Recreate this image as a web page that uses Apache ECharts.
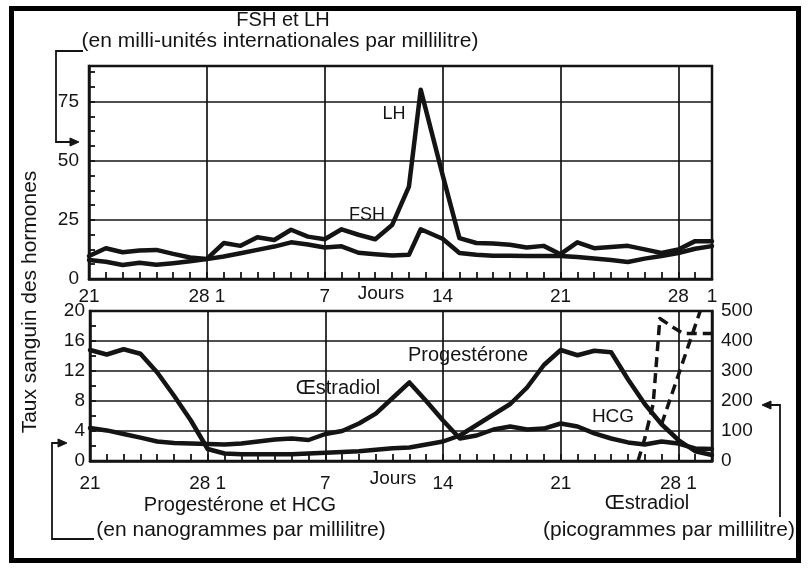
<!DOCTYPE html>
<html>
<head>
<meta charset="utf-8">
<script src="https://cdn.jsdelivr.net/npm/echarts@6/dist/echarts.min.js"></script>
<style>
html,body{margin:0;padding:0;background:#fff;}
#c{width:808px;height:569px;}
</style>
</head>
<body>
<div id="c"></div>
<script>
// ---- Données (jour 0 = jour 21 du cycle précédent) ----
const jours = [0,1,2,3,4,5,6,7,8,9,10,11,12,13,14,15,16,17,18,19,20,21,22,23,24,25,26,27,28,29,30,31,32,33,34,35,36,37];
// jours des mesures FSH/LH (le pic est légèrement avant le jour 20)
const joursHypophyse = [0,1,2,3,4,5,6,7,8,9,10,11,12,13,14,15,16,17,18,19,19.7,21,22,23,24,25,26,27,28,29,30,31,32,33,34,35,36,37];

// FSH et LH (mUI/ml)
const lh  = [9.7,13,11.3,12,12.3,10.6,9.1,8.5,15.2,14,17.6,16.5,20.8,17.9,16.8,21,18.7,16.8,22.8,39,80,44,17.3,15.2,15,14.5,13.3,14,10.5,15.5,13,13.5,14,12.5,11,12.5,16,16];
const fsh = [8,7.3,5.9,6.9,6,6.7,7.5,8.4,9.5,10.9,12.3,13.7,15.5,14.6,13.3,13.8,11.1,10.5,9.9,10.2,21,17,11,10.2,9.8,9.8,9.7,9.7,9.7,9.3,8.7,8,7.2,8.6,9.7,11,12.8,13.9];

// Progestérone (ng/ml)
const progesterone = [14.8,14.2,14.9,14.3,11.8,8.7,5.4,1.6,1.0,0.9,0.9,0.9,0.9,1.0,1.1,1.2,1.3,1.5,1.7,1.8,2.2,2.6,3.4,4.8,6.2,7.6,9.8,12.8,14.8,14.1,14.7,14.5,10.9,7.6,4.9,2.8,1.3,0.8];

// Œstradiol (pg/ml)
const oestradiol = [110,102,90,78,65,60,58,57,55,58,65,72,75,70,90,100,125,158,210,262,200,135,75,85,105,115,105,108,125,115,92,75,62,55,65,58,42,40];

// HCG (ng/ml, tirets)
const hcgJours = [32.6,33.0,33.5,33.9,34.7,35.3,37];
const hcg      = [0,3,7.6,19,17.8,17,17];

// Progestérone en cas de grossesse (tirets)
const progGrossesseJours = [34,36.3];
const progGrossesse      = [4.9,20];

// Graduations de l'axe des jours
const positionsJours = [0,7,14,21,28,35,37];
const etiquettesHaut = ['21','28 1','7','14','21','28','1'];
const etiquettesBas  = ['21','28 1','7','14','21','28 1',''];

// ---- Style ----
const INK = '#141414';
const FONT = "'Liberation Sans', Arial, Helvetica, sans-serif";

function pairs(xs, ys){ return xs.map(function(x,i){ return [x, ys[i]]; }); }
function joursFormatter(list){
  return function(v){
    const i = positionsJours.indexOf(Math.round(v*1000)/1000);
    return i >= 0 ? list[i] : '';
  };
}

function mainX(grid, labels, margin){
  return {
    gridIndex: grid, type: 'value', min: 0, max: 37, interval: 7, position: 'bottom',
    axisLine: {show: true, onZero: false, lineStyle: {color: INK, width: 2.5}},
    axisTick: {show: false},
    splitLine: {show: true, lineStyle: {color: INK, width: 1.7}},
    axisLabel: {formatter: joursFormatter(labels), color: INK, fontSize: 19, fontFamily: FONT,
                margin: margin, showMinLabel: true, showMaxLabel: true, hideOverlap: false}
  };
}
function tickX(grid){
  return {
    gridIndex: grid, type: 'value', min: 0, max: 37, interval: 1, position: 'bottom',
    axisLine: {show: false, onZero: false},
    axisTick: {show: true, inside: true, length: 7, lineStyle: {color: INK, width: 1.8}},
    axisLabel: {show: false}, splitLine: {show: false}
  };
}
function tickY(grid, max, interval){
  return {
    gridIndex: grid, type: 'value', min: 0, max: max, interval: interval, position: 'left',
    axisLine: {show: false, onZero: false},
    axisTick: {show: true, inside: true, length: 6, lineStyle: {color: INK, width: 1.8}},
    axisLabel: {show: false}, splitLine: {show: false}
  };
}
function solid(){ return {color: INK, width: 4.5, cap: 'round', join: 'round'}; }
function dashed(){ return {color: INK, width: 3.5, type: [10, 6], cap: 'butt', join: 'round'}; }

function txt(x, y, s, size, rot){
  const el = {type: 'text', x: x, y: y, z: 100,
    style: {text: s, fill: INK, font: 'normal ' + (size || 20) + 'px ' + FONT, align: 'center', verticalAlign: 'middle'}};
  if (rot) el.rotation = rot;
  return el;
}
function seg(points, w){
  return {type: 'polyline', z: 100, shape: {points: points}, style: {stroke: INK, lineWidth: w || 1.8, fill: null}};
}
function tri(points){
  return {type: 'polygon', z: 100, shape: {points: points}, style: {fill: INK, stroke: INK, lineWidth: 1}};
}

const option = {
  backgroundColor: '#ffffff',
  animation: false,
  grid: [
    {left: 89, right: 96, top: 66, height: 213, show: true, borderColor: INK, borderWidth: 2.5,
     backgroundColor: 'transparent', containLabel: false, outerBoundsMode: 'none'},
    {left: 90, right: 96, top: 311, height: 150, show: true, borderColor: INK, borderWidth: 2.5,
     backgroundColor: 'transparent', containLabel: false, outerBoundsMode: 'none'}
  ],
  xAxis: [ mainX(0, etiquettesHaut, 8), tickX(0), mainX(1, etiquettesBas, 13), tickX(1) ],
  yAxis: [
    {gridIndex: 0, type: 'value', min: 0, max: 90, interval: 25, position: 'left',
     axisLine: {show: true, onZero: false, lineStyle: {color: INK, width: 2.5}},
     axisTick: {show: false},
     splitLine: {show: true, lineStyle: {color: INK, width: 1.7}},
     axisLabel: {color: INK, fontSize: 19, fontFamily: FONT, margin: 10,
                 formatter: function(v){ return (v % 25 === 0) ? String(v) : ''; }}},
    tickY(0, 90, 6.25),
    {gridIndex: 1, type: 'value', min: 0, max: 20, interval: 4, position: 'left',
     axisLine: {show: true, onZero: false, lineStyle: {color: INK, width: 2.5}},
     axisTick: {show: false},
     splitLine: {show: true, lineStyle: {color: INK, width: 1.7}},
     axisLabel: {color: INK, fontSize: 19, fontFamily: FONT, margin: 5}},
    tickY(1, 20, 2),
    {gridIndex: 1, type: 'value', min: 0, max: 500, interval: 100, position: 'right',
     axisLine: {show: true, onZero: false, lineStyle: {color: INK, width: 2.5}},
     axisTick: {show: false}, splitLine: {show: false},
     axisLabel: {color: INK, fontSize: 19, fontFamily: FONT, margin: 9}}
  ],
  series: [
    {name: 'LH', type: 'line', xAxisIndex: 0, yAxisIndex: 0, data: pairs(joursHypophyse, lh),
     showSymbol: false, symbol: 'none', lineStyle: solid(), z: 5},
    {name: 'FSH', type: 'line', xAxisIndex: 0, yAxisIndex: 0, data: pairs(joursHypophyse, fsh),
     showSymbol: false, symbol: 'none', lineStyle: solid(), z: 5},
    {name: 'Progestérone', type: 'line', xAxisIndex: 2, yAxisIndex: 2, data: pairs(jours, progesterone),
     showSymbol: false, symbol: 'none', lineStyle: solid(), z: 5},
    {name: 'Œstradiol', type: 'line', xAxisIndex: 2, yAxisIndex: 4, data: pairs(jours, oestradiol),
     showSymbol: false, symbol: 'none', lineStyle: solid(), z: 5},
    {name: 'HCG', type: 'line', xAxisIndex: 2, yAxisIndex: 2, data: pairs(hcgJours, hcg),
     showSymbol: false, symbol: 'none', lineStyle: dashed(), z: 6},
    {name: 'Progestérone (grossesse)', type: 'line', xAxisIndex: 2, yAxisIndex: 2,
     data: pairs(progGrossesseJours, progGrossesse),
     showSymbol: false, symbol: 'none', lineStyle: dashed(), z: 6}
  ],
  graphic: [
    // cadre noir
    {type: 'rect', z: 100, shape: {x: 11.5, y: 8.5, width: 787, height: 552},
     style: {fill: null, stroke: '#000', lineWidth: 5}},
    // titres et annotations
    txt(283, 20, 'FSH et LH', 20),
    txt(280, 41, '(en milli-unités internationales par millilitre)', 21),
    txt(394, 114, 'LH', 18),
    txt(367, 215, 'FSH', 18),
    txt(381, 294, 'Jours', 19),
    txt(393, 479, 'Jours', 19),
    txt(468, 355, 'Progestérone', 20),
    txt(338, 388, 'Œstradiol', 20),
    txt(613, 417, 'HCG', 19),
    txt(240, 505, 'Progestérone et HCG', 20),
    txt(241, 530, '(en nanogrammes par millilitre)', 21),
    txt(647, 503, 'Œstradiol', 20),
    txt(669, 530, '(picogrammes par millilitre)', 21),
    txt(30, 302, 'Taux sanguin des hormones', 21, Math.PI / 2),
    // accolade du haut
    seg([[83, 51], [56, 51], [56, 142], [72, 142]]),
    tri([[79, 142], [70, 138], [70, 146]]),
    // accolade du bas (gauche)
    seg([[94, 539], [52, 539], [52, 443], [60, 443]]),
    tri([[67, 443], [58, 439], [58, 447]]),
    // accolade de droite
    seg([[780, 517], [780, 405], [769, 405]]),
    tri([[762, 405], [771, 401], [771, 409]])
  ]
};

const chart = echarts.init(document.getElementById('c'), null, {renderer: 'canvas'});
chart.setOption(option);
</script>
</body>
</html>
